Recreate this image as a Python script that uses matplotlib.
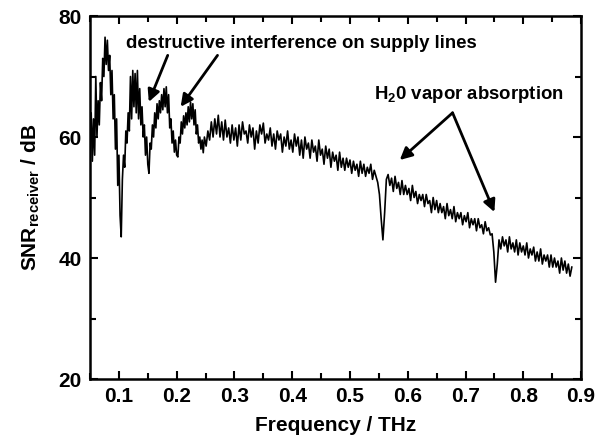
import numpy as np
import matplotlib
matplotlib.use("Agg")
import matplotlib.pyplot as plt
from matplotlib.ticker import MultipleLocator

plt.rcParams['font.family'] = ['Liberation Sans', 'DejaVu Sans']
plt.rcParams['font.weight'] = 'bold'
plt.rcParams['mathtext.fontset'] = 'custom'
plt.rcParams['mathtext.rm'] = 'Liberation Sans:bold'
plt.rcParams['mathtext.it'] = 'Liberation Sans:bold'
plt.rcParams['mathtext.bf'] = 'Liberation Sans:bold'

# --- data ---
# low band: 0.050 ... 0.248 THz, every 0.002 THz
low_start, low_step = 0.050, 0.002
snr_low = [
    59, 64, 56, 63, 57, 70, 60, 66, 62, 69,          # 0.050
    66, 73, 70, 76.5, 72, 76, 71, 73.5, 67, 71,      # 0.070
    63, 67, 58, 63, 52, 57, 47, 43.5, 53, 57,        # 0.090
    55, 61, 59, 64, 61, 70, 63, 71, 65, 70.5,        # 0.110
    64, 71, 63, 68, 62, 65, 60, 62, 57, 60,          # 0.130
    55.5, 54, 59, 58, 62, 60, 64, 61.5, 65.5, 63,    # 0.150
    66, 64, 67, 64.5, 68, 65, 68.3, 64, 67, 61.5,    # 0.170
    63, 59, 61, 57.5, 59.5, 57, 56.7, 60, 59, 62.5,  # 0.190
    60.5, 63.5, 61.5, 64, 62, 65, 62.5, 65.8, 63, 65.5,  # 0.210
    62, 64.5, 60.5, 62, 59, 60, 58, 59.5, 57.4, 60,  # 0.230
]

# high band: 0.251 ... 0.884 THz, every 0.003 THz
high_start, high_step = 0.251, 0.003
snr_high = [
    58.5, 61, 59.5, 62.5, 60, 63, 60.5, 63.6, 60, 62.5,      # 0.251
    59.5, 62.8, 60, 61.5, 59, 62, 59.5, 61.5, 58.5, 62,      # 0.281
    59.5, 62.5, 60.5, 61, 59, 62, 60, 61.5, 58, 61,          # 0.311
    59, 62, 60.5, 62.3, 59, 60.5, 59.5, 61.5, 58.5, 60.5,    # 0.341
    58, 61, 59.5, 60.5, 57.5, 60, 58.5, 61, 58, 59.5,        # 0.371
    57.5, 60.5, 58.5, 60, 57, 59.5, 56.5, 60, 58, 59,        # 0.401
    56.5, 59.5, 57.5, 58.5, 56, 59.5, 57, 58, 55.5, 58.5,    # 0.431
    56.5, 58, 55, 57.5, 56, 57, 54.5, 57.5, 55, 56.5,        # 0.461
    54.5, 56.5, 55, 56.2, 54, 56, 54.5, 55.5, 53.5, 56,      # 0.491
    54, 55.5, 53.5, 55, 54, 55.5, 53, 54.5, 53.5, 52.5,      # 0.521
    50.5, 46.5, 43, 47.5, 53,                                # 0.551 water line
    53.8, 52, 53.2, 51, 53.5, 51.5, 52.5, 50.5, 52.8, 50.5,  # 0.566
    52, 50.5, 51.5, 49.5, 52, 50, 51, 49, 50.5, 49.5,        # 0.596
    50.5, 48.5, 50.5, 49, 49.5, 47.5, 50, 48, 49.5, 47.5,    # 0.626
    49, 47.5, 48.5, 46.5, 49, 47, 48, 46.5, 48.5, 46,        # 0.656
    47.5, 46.5, 47.5, 45.5, 47, 46, 47.5, 45, 46.5, 45.5,    # 0.686
    46.5, 44.5, 46.5, 45, 45.5, 44, 46, 44.5, 45, 43.8,      # 0.716
    44, 41, 36, 39, 43, 41.5,                                # 0.746 water line
    43.5, 42, 43, 41, 43.5, 41.5, 42.5, 41, 43, 40.5,        # 0.764
    42.5, 41, 42, 40.5, 42.5, 40, 41.5, 40.5, 41.8, 39.5,    # 0.794
    41, 39.5, 41.5, 39, 40.5, 39.5, 40.5, 38.5, 40.5, 38.5,  # 0.824
    40, 38.5, 39.5, 37.5, 40, 38, 39.5, 37.5, 39, 37, 38.5,  # 0.854
]

freq = np.concatenate([low_start + low_step * np.arange(len(snr_low)),
                       high_start + high_step * np.arange(len(snr_high))])
snr = np.array(snr_low + snr_high)

fig = plt.figure(figsize=(6.01, 4.45), dpi=100)
ax = fig.add_axes([0.1498, 0.1483, 0.817, 0.8157])

ax.plot(freq, snr, color='black', lw=1.2)

ax.set_xlim(0.05, 0.9)
ax.set_ylim(20, 80)
ax.xaxis.set_major_locator(MultipleLocator(0.1))
ax.xaxis.set_minor_locator(MultipleLocator(0.05))
ax.yaxis.set_major_locator(MultipleLocator(20))
ax.yaxis.set_minor_locator(MultipleLocator(10))
ax.tick_params(which='both', direction='in', top=True, right=True, width=1.5)
ax.tick_params(which='major', length=6, labelsize=15, pad=6)
ax.tick_params(which='minor', length=4)
for s in ax.spines.values():
    s.set_linewidth(1.8)
for lab in ax.get_xticklabels() + ax.get_yticklabels():
    lab.set_fontweight('bold')

ax.set_xlabel('Frequency / THz', fontsize=15, fontweight='bold', labelpad=7)
ax.set_ylabel(r'SNR$_\mathregular{receiver}$ / dB', fontsize=15, fontweight='bold', labelpad=12)

# annotations
arr = dict(arrowstyle='-|>', color='black', lw=2, mutation_scale=18, shrinkA=0, shrinkB=0)
ax.text(0.112, 75.4, 'destructive interference on supply lines', fontsize=13.4,
        fontweight='bold', va='center', ha='left')
ax.annotate('', xy=(0.1517, 65.8), xytext=(0.1845, 73.5), arrowprops=arr)
ax.annotate('', xy=(0.2069, 65.0), xytext=(0.2707, 73.5), arrowprops=arr)

ax.text(0.541, 67.1, r'H$_\mathregular{2}$0 vapor absorption', fontsize=13.4,
        fontweight='bold', va='center', ha='left')
ax.annotate('', xy=(0.5862, 56.2), xytext=(0.6776, 64.0), arrowprops=arr)
ax.annotate('', xy=(0.750, 47.6), xytext=(0.6776, 64.0), arrowprops=arr)

fig.savefig('out.png', dpi=100)
